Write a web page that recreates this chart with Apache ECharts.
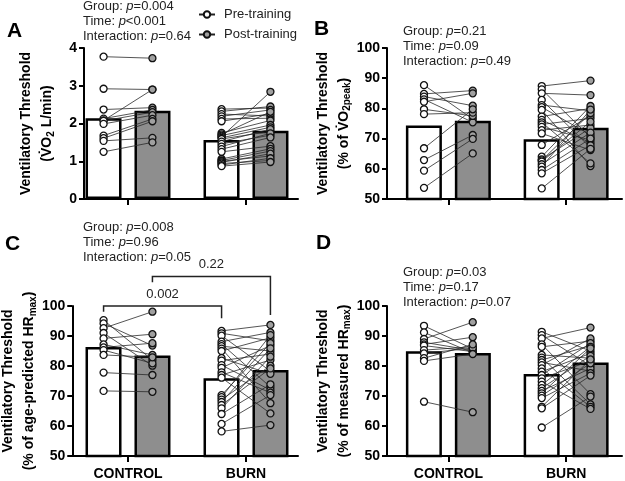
<!DOCTYPE html>
<html><head><meta charset="utf-8">
<script src="https://cdn.jsdelivr.net/npm/echarts@6/dist/echarts.min.js"></script>
<style>html,body{margin:0;padding:0;background:#fff}#c{width:625px;height:481px}</style>
</head><body><div id="c"></div>
<script>
// ---------------- DATA ----------------
const categories = ['CONTROL', 'BURN'];
const legendNames = ['Pre-training', 'Post-training'];

// Panel A: VO2 L/min
const aCtrlPre  = [3.77, 2.92, 2.37, 2.13, 2.08, 2.07, 1.99, 1.68, 1.61, 1.54, 1.25];
const aCtrlPost = [3.73, 2.90, 2.42, 2.36, 2.90, 2.30, 2.22, 2.12, 2.06, 1.62, 1.50];
const aBurnPre  = [2.38, 2.32, 2.25, 2.19, 2.12, 2.06, 1.75, 1.71, 1.68, 1.65, 1.62, 1.59, 1.52, 1.46, 1.39, 1.32, 1.25, 1.06, 1.02, 1.00, 0.97, 0.94, 0.90, 0.87];
const aBurnPost = [2.41, 2.45, 2.20, 2.36, 2.14, 2.26, 2.08, 2.31, 1.96, 2.84, 1.90, 1.79, 1.85, 1.69, 1.74, 1.63, 1.40, 1.33, 1.27, 1.14, 1.20, 1.02, 1.08, 0.98];
const aBarPre  = [2.14, 1.56];
const aBarPost = [2.34, 1.81];
const aTicks = [0, 4, 1];
const aStats = [['Group', '=', '0.004'], ['Time', '<', '0.001'], ['Interaction', '=', '0.64']];

// Panel B: % of VO2peak
const bCtrlPre  = [87.7, 84.8, 83.9, 83.0, 82.2, 79.7, 78.1, 66.8, 62.9, 59.4, 53.7];
const bCtrlPost = [76.5, 85.9, 80.9, 75.4, 85.0, 77.5, 78.6, 79.7, 71.2, 69.9, 65.1];
const bBurnPre  = [87.4, 86.3, 85.0, 82.8, 81.1, 80.4, 79.5, 77.3, 76.2, 75.4, 74.7, 73.9, 72.8, 71.7, 67.9, 64.0, 63.1, 62.8, 62.4, 61.5, 60.7, 59.6, 58.5, 53.5];
const bBurnPost = [89.2, 70.4, 84.4, 67.0, 79.2, 71.2, 60.9, 80.0, 68.6, 61.8, 76.7, 69.5, 74.5, 66.2, 77.6, 80.8, 73.5, 78.4, 75.6, 72.0, 79.6, 70.0, 67.8, 66.6];
const bBarPre  = [74.3, 69.8];
const bBarPost = [75.9, 73.6];
const bTicks = [50, 100, 10];
const bStats = [['Group', '=', '0.21'], ['Time', '=', '0.09'], ['Interaction', '=', '0.49']];

// Panel C: % of age-predicted HRmax
const cCtrlPre  = [95.3, 94.2, 92.6, 91.0, 89.2, 87.2, 86.2, 85.3, 83.7, 77.8, 71.7];
const cCtrlPost = [82.0, 86.8, 98.1, 80.1, 90.6, 83.7, 87.6, 80.9, 82.9, 77.0, 71.4];
const cBurnPre  = [91.7, 90.9, 90.1, 88.1, 87.3, 86.6, 85.8, 85.0, 82.6, 81.8, 80.3, 79.4, 77.9, 77.0, 76.1, 70.3, 69.6, 68.8, 68.0, 67.0, 65.9, 64.0, 60.7, 58.2];
const cBurnPost = [93.7, 88.4, 78.3, 91.2, 73.0, 85.0, 67.6, 89.4, 77.4, 84.0, 72.0, 86.8, 71.1, 82.0, 64.2, 87.6, 90.3, 80.1, 85.9, 79.2, 83.1, 73.9, 70.3, 60.3];
const cBarPre  = [86.3, 75.9];
const cBarPost = [83.5, 78.7];
const cTicks = [50, 100, 10];
const cStats = [['Group', '=', '0.008'], ['Time', '=', '0.96'], ['Interaction', '=', '0.05']];
// brackets: [fromGroup, toGroup, timepoint, barTopValue, leftLegEnd, rightLegEnd, label]
const cBrackets = [
  [0, 1, 'pre', 100.0, 98.1, 95.9, '0.002'],
  [0, 1, 'post', 109.8, 107.9, 97.0, '0.22']
];

// Panel D: % of measured HRmax
const dCtrlPre  = [93.4, 91.2, 89.0, 87.9, 87.2, 86.8, 85.3, 84.2, 82.6, 81.7, 68.1];
const dCtrlPost = [85.7, 84.4, 94.6, 85.2, 89.6, 84.8, 86.4, 86.0, 87.2, 84.0, 64.6];
const dBurnPre  = [91.4, 90.3, 89.2, 87.2, 86.4, 83.7, 82.8, 82.0, 81.2, 80.3, 79.2, 78.1, 77.0, 75.9, 74.8, 73.7, 72.6, 71.7, 70.9, 70.1, 69.3, 66.4, 65.9, 59.5];
const dBurnPost = [85.0, 80.1, 92.8, 70.6, 88.3, 82.6, 67.2, 86.8, 78.3, 89.2, 66.4, 84.2, 87.6, 81.7, 65.7, 86.4, 83.4, 79.2, 85.9, 80.9, 77.6, 82.2, 76.8, 69.8];
const dBarPre  = [84.9, 77.3];
const dBarPost = [84.3, 81.2];
const dTicks = [50, 100, 10];
const dStats = [['Group', '=', '0.03'], ['Time', '=', '0.17'], ['Interaction', '=', '0.07']];

// ---------------- STYLE / LAYOUT ----------------
const FONT = "'Liberation Sans', Arial, Helvetica, sans-serif";
const DODGE = 0.207;            // horizontal offset of pre/post within a category (in category units)
const BAR_GRAY = '#8e8e8e';
const POST_PT = '#a0a0a0';

const panels = [
  { letter: 'A', pre: [aCtrlPre, aBurnPre], post: [aCtrlPost, aBurnPost], barPre: aBarPre, barPost: aBarPost, ticks: aTicks, stats: aStats, showCat: false,
    yname: '{t|Ventilatory Threshold}\n{t|(V\u0307O}{s|2}{t| L/min)}',
    frame: { left: 84, top: 48, width: 214, height: 151 }, dataLeft: 69, dataWidth: 236, nameGap: 26,
    letterPos: [7, 21], statsPos: [83, 0] },
  { letter: 'B', pre: [bCtrlPre, bBurnPre], post: [bCtrlPost, bBurnPost], barPre: bBarPre, barPost: bBarPost, ticks: bTicks, stats: bStats, showCat: false,
    yname: '{t|Ventilatory Threshold}\n{t|(% of V\u0307O}{s|2peak}{t|)}',
    frame: { left: 387, top: 48, width: 235, height: 151 }, dataLeft: 389.5, dataWidth: 237, nameGap: 26,
    letterPos: [314, 19], statsPos: [403, 25] },
  { letter: 'C', pre: [cCtrlPre, cBurnPre], post: [cCtrlPost, cBurnPost], barPre: cBarPre, barPost: cBarPost, ticks: cTicks, stats: cStats, showCat: true,
    yname: '{t|Ventilatory Threshold}\n{t|(% of age-predicted HR}{s|max}{t|)}',
    frame: { left: 70, top: 306, width: 228, height: 150 }, dataLeft: 69, dataWidth: 236, nameGap: 29,
    letterPos: [5, 234], statsPos: [83, 221], brackets: cBrackets },
  { letter: 'D', pre: [dCtrlPre, dBurnPre], post: [dCtrlPost, dBurnPost], barPre: dBarPre, barPost: dBarPost, ticks: dTicks, stats: dStats, showCat: true,
    yname: '{t|Ventilatory Threshold}\n{t|(% of measured HR}{s|max}{t|)}',
    frame: { left: 387, top: 306, width: 235, height: 150 }, dataLeft: 389.5, dataWidth: 237, nameGap: 30,
    letterPos: [316, 233], statsPos: [403, 266] }
];

const grid = [], xAxis = [], yAxis = [], series = [], graphic = [];

// legend-only series
series.push({ type: 'line', name: legendNames[0], xAxisIndex: 2, yAxisIndex: 1, data: [], symbol: 'circle', symbolSize: 7,
  itemStyle: { color: '#fff', borderColor: '#111', borderWidth: 1.3 }, lineStyle: { color: '#222', width: 1.2 } });
series.push({ type: 'line', name: legendNames[1], xAxisIndex: 2, yAxisIndex: 1, data: [], symbol: 'circle', symbolSize: 7,
  itemStyle: { color: POST_PT, borderColor: '#111', borderWidth: 1.3 }, lineStyle: { color: '#222', width: 1.2 } });

panels.forEach((p, k) => {
  const [ymin, ymax, yint] = p.ticks;
  grid.push(Object.assign({}, p.frame));
  grid.push({ left: p.dataLeft, width: p.dataWidth, top: p.frame.top, height: p.frame.height });
  const gF = 2 * k, gD = 2 * k + 1;
  const xC = 3 * k + 1, xV = 3 * k + 2;
  const yD = 2 * k + 1;

  xAxis.push({ type: 'value', gridIndex: gF, min: 0, max: 1, axisLine: { show: true, onZero: false, lineStyle: { color: '#000', width: 2 } },
    axisTick: { show: false }, axisLabel: { show: false }, splitLine: { show: false } });
  xAxis.push({ type: 'category', gridIndex: gD, data: categories, boundaryGap: true,
    axisLine: { show: true, onZero: false, lineStyle: { color: 'rgba(0,0,0,0)' } },
    axisTick: { show: true, alignWithLabel: true, length: 6, lineStyle: { color: '#000', width: 2 } },
    axisLabel: { show: p.showCat, margin: 11, fontSize: 14, fontWeight: 'bold', color: '#000', fontFamily: FONT },
    splitLine: { show: false } });
  xAxis.push({ type: 'value', gridIndex: gD, min: -0.5, max: 1.5, show: false });

  yAxis.push({ type: 'value', gridIndex: gF, min: ymin, max: ymax, interval: yint,
    axisLine: { show: true, onZero: false, lineStyle: { color: '#000', width: 2 } },
    axisTick: { show: true, length: 5, lineStyle: { color: '#000', width: 2 } },
    axisLabel: { fontSize: 14, fontWeight: 'bold', color: '#000', fontFamily: FONT, margin: 7 },
    splitLine: { show: false },
    name: p.yname, nameLocation: 'middle', nameRotate: 90, nameGap: p.nameGap,
    nameTextStyle: { fontFamily: FONT, color: '#000',
      rich: { t: { fontSize: 14, fontWeight: 'bold', fontFamily: FONT, color: '#000', lineHeight: 21 },
              s: { fontSize: 10, fontWeight: 'bold', fontFamily: FONT, color: '#000', lineHeight: 21, padding: [8, 0, 0, 0] } } } });
  yAxis.push({ type: 'value', gridIndex: gD, min: ymin, max: ymax, show: false });

  // bars (group means)
  series.push({ type: 'bar', xAxisIndex: xC, yAxisIndex: yD, data: p.barPre, barWidth: 36, barGap: '36%', z: 1,
    itemStyle: { color: '#fff', borderColor: '#000', borderWidth: 2.5 }, silent: true });
  series.push({ type: 'bar', xAxisIndex: xC, yAxisIndex: yD, data: p.barPost, barWidth: 36, barGap: '36%', z: 1,
    itemStyle: { color: BAR_GRAY, borderColor: '#000', borderWidth: 2.5 }, silent: true });

  // paired individual lines and points
  const segs = [], prePts = [], postPts = [];
  [0, 1].forEach(g => {
    p.pre[g].forEach((v, i) => {
      const w = p.post[g][i];
      segs.push({ coords: [[g - DODGE, v], [g + DODGE, w]] });
      prePts.push([g - DODGE, v]);
      postPts.push([g + DODGE, w]);
    });
  });
  series.push({ type: 'lines', coordinateSystem: 'cartesian2d', xAxisIndex: xV, yAxisIndex: yD, data: segs, z: 3, silent: true,
    lineStyle: { color: '#2a2a2a', width: 0.8, opacity: 1 } });
  series.push({ type: 'scatter', xAxisIndex: xV, yAxisIndex: yD, data: prePts, symbol: 'circle', symbolSize: 7, z: 4, silent: true,
    itemStyle: { color: '#fff', borderColor: '#111', borderWidth: 1.3, opacity: 1 } });
  series.push({ type: 'scatter', xAxisIndex: xV, yAxisIndex: yD, data: postPts, symbol: 'circle', symbolSize: 7, z: 4, silent: true,
    itemStyle: { color: POST_PT, borderColor: '#111', borderWidth: 1.3, opacity: 1 } });

  // significance brackets
  if (p.brackets) {
    const bSegs = [], bLabels = [];
    p.brackets.forEach(b => {
      const [g1, g2, tp, top, l1, l2, lab] = b;
      const off = tp === 'pre' ? -DODGE : DODGE;
      bSegs.push({ coords: [[g1 + off, l1], [g1 + off, top], [g2 + off, top], [g2 + off, l2]] });
      bLabels.push({ value: [(g1 + g2) / 2 + off, top], name: lab });
    });
    series.push({ type: 'lines', coordinateSystem: 'cartesian2d', polyline: true, clip: false, xAxisIndex: xV, yAxisIndex: yD,
      data: bSegs, z: 5, silent: true, lineStyle: { color: '#222', width: 1.5, opacity: 1 } });
    series.push({ type: 'scatter', xAxisIndex: xV, yAxisIndex: yD, data: bLabels, symbol: 'circle', symbolSize: 1, clip: false, z: 6, silent: true,
      itemStyle: { color: 'rgba(0,0,0,0)', opacity: 1 },
      label: { show: true, position: 'top', distance: 5, formatter: '{b}', fontSize: 13, color: '#222', fontFamily: FONT, opacity: 1 } });
  }

  graphic.push({ type: 'text', left: p.letterPos[0], top: p.letterPos[1],
    style: { text: p.letter, font: `bold 21px ${FONT}`, fill: '#000' } });
  graphic.push({ type: 'text', left: p.statsPos[0], top: p.statsPos[1],
    style: { text: p.stats.map(s => `{n|${s[0]}: }{i|p}{n|${s[1]}${s[2]}}`).join('\n'),
      rich: { n: { fontSize: 13, fontFamily: FONT, fill: '#222', lineHeight: 15 },
              i: { fontSize: 13, fontFamily: FONT, fontStyle: 'italic', fill: '#222', lineHeight: 15 } } } });
});

const chart = echarts.init(document.getElementById('c'), null, { renderer: 'canvas' });
chart.setOption({
  animation: false,
  backgroundColor: '#fff',
  legend: { data: legendNames, orient: 'vertical', left: 193, top: 3, itemWidth: 16, itemHeight: 8, itemGap: 7, selectedMode: false,
    textStyle: { fontSize: 13, color: '#222', fontFamily: FONT, padding: [0, 0, 0, 4] } },
  grid, xAxis, yAxis, series, graphic
});
</script></body></html>
